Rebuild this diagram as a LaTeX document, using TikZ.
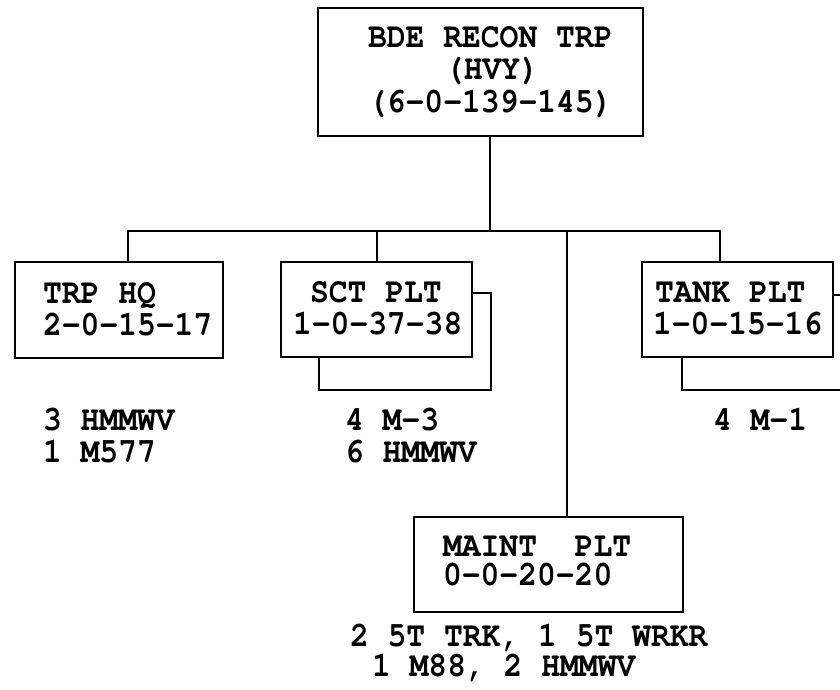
\documentclass[tikz,border=0pt]{standalone}
\usepackage[T1]{fontenc}
\usepackage{courier}
\usepackage{graphicx}
% slightly tall typewriter lettering
\newcommand{\tallt}[1]{\scalebox{0.98}[1.1]{#1}}
\begin{document}
\begin{tikzpicture}[x=1pt,y=-1pt,
  line width=2pt,
  unitbox/.style={draw, rectangle, inner sep=0pt, outer sep=0pt},
  lbl/.style={anchor=base west, inner sep=0pt, outer sep=0pt,
    text height=20pt, text depth=4pt,
    font=\fontsize{32}{32}\selectfont\ttfamily\bfseries}]
\useasboundingbox (0,0) rectangle (840,689);

% unit boxes
\node[unitbox, minimum width=325pt, minimum height=128pt] (top)   at (480.5,72)  {};
\node[unitbox, minimum width=208pt, minimum height=96pt]  (hq)    at (119,310)   {};
\node[unitbox, minimum width=191pt, minimum height=95pt]  (sct)   at (376.5,309.5) {};
\node[unitbox, minimum width=191pt, minimum height=95pt]  (tank)  at (737.5,309.5) {};
\node[unitbox, minimum width=269pt, minimum height=95pt]  (maint) at (548.5,564.5) {};

% stacked outlines behind the platoon boxes
\draw (472,293) -- (491,293) -- (491,390) -- (319,390) -- (319,357);
\draw (833,295) -- (842,295);
\draw (682,357) -- (682,390) -- (842,390);

% box texts
\node[lbl] (t1) at (368,47)  {\tallt{BDE RECON TRP}};
\node[lbl] (t2) at (445,79.5){\tallt{(HVY)}};
\node[lbl] (t3) at (368,112) {\tallt{(6-0-139-145)}};

\node[lbl] (h1) at (43,303) {\tallt{TRP HQ}};
\node[lbl] (h2) at (43,335) {\tallt{2-0-15-17}};

\node[lbl] (s1) at (310,302) {\tallt{SCT PLT}};
\node[lbl] (s2) at (293,334) {\tallt{1-0-37-38}};

\node[lbl] (k1) at (655,302) {\tallt{TANK PLT}};
\node[lbl] (k2) at (653,334) {\tallt{1-0-15-16}};

\node[lbl] (m1) at (443,556) {\tallt{MAINT\ \ PLT}};
\node[lbl] (m2) at (443,585) {\tallt{0-0-20-20}};

% equipment lists
\node[lbl] (e1) at (43,430)  {\tallt{3 HMMWV}};
\node[lbl] (e2) at (43,462)  {\tallt{1 M577}};
\node[lbl] (e3) at (345,430) {\tallt{4 M-3}};
\node[lbl] (e4) at (345,462) {\tallt{6 HMMWV}};
\node[lbl] (e5) at (713,430) {\tallt{4 M-1}};
\node[lbl] (e6) at (350,646) {\tallt{2 5T TRK, 1 5T WRKR}};
\node[lbl] (e7) at (372,676) {\tallt{1 M88, 2 HMMWV}};

% connector tree
\coordinate (bus) at (0,231);
\coordinate (topout) at ([xshift=172pt]top.south west);
\coordinate (hqin)   at ([xshift=113pt]hq.north west);
\coordinate (tankin) at ([xshift=78pt]tank.north west);
\coordinate (maintin) at ([xshift=153pt]maint.north west);

\draw (topout) -- (topout |- bus);
\draw (hqin) -- (hqin |- bus) -- (tankin |- bus) -- (tankin);
\draw (sct.north) -- (sct.north |- bus);
\draw (maintin) -- (maintin |- bus);
\end{tikzpicture}
\end{document}
